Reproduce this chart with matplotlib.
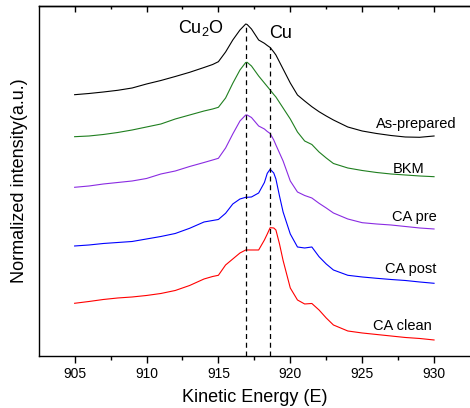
import matplotlib
matplotlib.use("Agg")
import matplotlib.pyplot as plt
import numpy as np

plt.rcParams['font.family'] = ['Liberation Sans', 'DejaVu Sans']
plt.rcParams['mathtext.default'] = 'regular'

# Common energy grid (eV) for all spectra
energy = [905, 906, 907, 908, 909, 910, 911, 912, 913, 914, 914.6, 915,
          915.5, 916, 916.5, 916.9, 917.0, 917.3, 917.8, 918.2, 918.4, 918.6,
          918.85, 919, 919.25, 919.5, 920, 920.5, 921, 921.5, 922, 922.5, 923,
          924, 925, 926, 927, 928, 929, 930]

# Stacked, normalized intensities (a.u.)
as_prepared = [261.3, 262.5, 264.0, 265.7, 268.0, 272.0, 275.5, 279.5, 283.7,
               288.5, 291.5, 294.3, 304.0, 316.0, 326.0, 332.0, 331.5, 327.0,
               316.0, 312.7, 310.5, 308.5, 304.0, 301.0, 294.0, 287.0, 273.0,
               261.0, 255.0, 249.3, 244.3, 240.0, 236.0, 229.0, 225.0, 222.5,
               220.5, 219.0, 218.7, 220.0]
bkm = [219.3, 220.0, 221.5, 223.5, 226.0, 229.0, 232.0, 237.0, 241.0, 245.0,
       247.0, 248.7, 258.0, 272.7, 286.0, 293.5, 293.7, 290.0, 280.0, 273.0,
       269.5, 266.0, 261.5, 259.0, 253.5, 248.0, 237.0, 224.0, 215.0, 211.5,
       204.0, 198.0, 192.5, 188.0, 185.5, 183.5, 182.0, 181.0, 180.0, 179.3]
ca_pre = [168.7, 170.0, 172.0, 173.5, 175.0, 177.5, 182.0, 185.0, 189.5, 193.5,
          196.0, 197.7, 208.0, 222.0, 235.0, 241.0, 241.0, 238.5, 230.0, 227.0,
          224.5, 222.5, 216.0, 211.0, 203.0, 195.0, 175.0, 164.0, 160.5, 158.0,
          152.7, 148.0, 143.0, 137.0, 133.3, 132.0, 131.0, 129.5, 128.0, 127.0]
ca_post = [110.0, 111.0, 112.5, 113.5, 114.5, 117.0, 119.5, 122.5, 127.7, 134.0,
           135.5, 136.5, 142.7, 152.0, 157.0, 158.7, 158.7, 159.0, 163.0, 173.5,
           182.7, 186.7, 183.0, 177.0, 160.0, 144.0, 122.0, 109.0, 108.0, 109.0,
           99.3, 92.0, 86.0, 80.7, 79.0, 77.7, 76.5, 75.5, 74.0, 72.7]
ca_clean = [52.7, 54.5, 56.5, 58.0, 59.0, 60.5, 62.5, 65.5, 70.5, 77.0,
            79.5, 80.7, 91.0, 97.0, 103.0, 106.0, 106.0, 106.0, 106.0, 116.0,
            122.0, 128.3, 128.0, 126.0, 112.0, 95.5, 68.0, 56.0, 52.0, 52.5,
            46.0, 38.0, 31.0, 25.0, 23.0, 21.5, 20.0, 18.5, 17.5, 16.0]

labels = ['As-prepared', 'BKM', 'CA pre', 'CA post', 'CA clean']
colors = ['black', '#1f7f1f', '#8a2be2', '#0000ff', '#ff0000']
label_x = [928.78, 928.23, 928.65, 928.38, 927.83]
label_y = [228.3, 183.3, 135.3, 83.3, 26.0]

# Reference peak energies
cu2o_peak = 916.9
cu_peak = 918.6

major_ticks = [905, 910, 915, 920, 925, 930]
minor_ticks = [907.5, 912.5, 917.5, 922.5, 927.5]

fig = plt.figure(figsize=(4.70, 4.08), dpi=100)
ax = fig.add_axes([0.0823, 0.1275, 0.9177, 0.8578])

spectra = [as_prepared, bkm, ca_pre, ca_post, ca_clean]
for spec, name, col, lx, ly in zip(spectra, labels, colors, label_x, label_y):
    ax.plot(energy, spec, color=col, linewidth=0.8)
    ax.text(lx, ly, name, fontsize=10.5, ha='center', va='baseline')

# Dashed markers from the axis up to the top spectrum
for e in (cu2o_peak, cu_peak):
    top = np.interp(e, energy, as_prepared)
    ax.vlines(e, 0, top, colors='black', linestyles=(0, (4, 3)), linewidth=0.9)

ax.text(913.75, 323, 'Cu$_2$O', fontsize=13, ha='center', va='baseline')
ax.text(919.34, 318.3, 'Cu', fontsize=13, ha='center', va='baseline')

ax.set_xlim(902.5, 932.5)
ax.set_ylim(0, 350)
ax.set_xticks(major_ticks)
ax.set_xticks(minor_ticks, minor=True)
ax.set_yticks([])
ax.tick_params(axis='x', which='major', direction='out', length=5, width=1,
               labelsize=10, top=False, pad=3)
ax.tick_params(axis='x', which='minor', direction='out', length=3, width=1, top=False)
ax.spines['right'].set_visible(False)
for side in ('left', 'bottom', 'top'):
    ax.spines[side].set_linewidth(1.0)

# top frame carries short inward ticks without labels
top_ax = ax.secondary_xaxis('top')
top_ax.set_xticks(major_ticks)
top_ax.set_xticks(minor_ticks, minor=True)
top_ax.tick_params(which='major', direction='in', length=4, width=1, labeltop=False)
top_ax.tick_params(which='minor', direction='in', length=2, width=1)
top_ax.spines['top'].set_linewidth(1.0)

ax.set_xlabel('Kinetic Energy (E)', fontsize=13, labelpad=6)
ax.set_ylabel('Normalized intensity(a.u.)', fontsize=13, labelpad=8)

fig.savefig('out.png', dpi=100)
